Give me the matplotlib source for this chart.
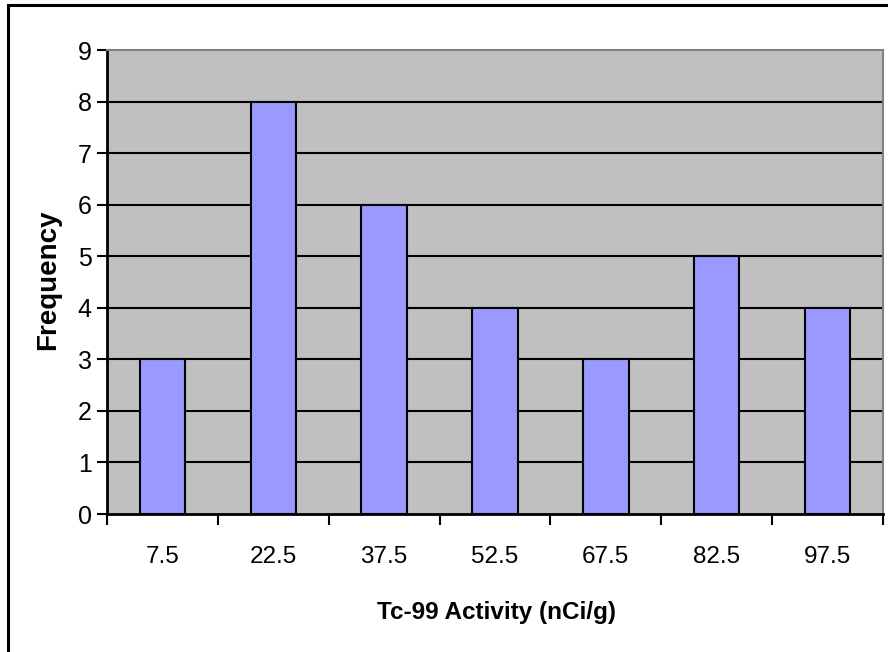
import matplotlib
matplotlib.use("Agg")
import matplotlib.pyplot as plt
from matplotlib.patches import Rectangle
import numpy as np

# Histogram bins (midpoints) and counts
bin_labels = ["7.5", "22.5", "37.5", "52.5", "67.5", "82.5", "97.5"]
frequency = [3, 8, 6, 4, 3, 5, 4]
y_ticks = list(range(0, 10))

plt.rcParams['font.family'] = ['Liberation Sans', 'DejaVu Sans']

W, H = 888, 652
fig = plt.figure(figsize=(W / 100, H / 100), dpi=100)
fig.patch.set_facecolor('white')

# Outer chart frame
fig.patches.append(Rectangle((8 / W, -0.05), 1.2, 1 - 5 / H + 0.05,
                             transform=fig.transFigure, fill=False,
                             edgecolor='black', linewidth=2.2, zorder=0))

left, right, top, bottom = 107, 883, 50, 514
ax = fig.add_axes([left / W, 1 - bottom / H, (right - left) / W, (bottom - top) / H])
ax.set_facecolor('#C0C0C0')

x = np.arange(len(bin_labels))
ax.bar(x, frequency, width=0.41, color='#9999FF', edgecolor='black',
       linewidth=1.5, zorder=3)

ax.set_xlim(-0.5, len(bin_labels) - 0.5)
ax.set_ylim(0, 9)

# Horizontal gridlines
for v in y_ticks[1:-1]:
    ax.axhline(v, color='black', linewidth=1.5, zorder=1)

ax.set_yticks(y_ticks)
ax.set_yticklabels([str(v) for v in y_ticks], fontsize=18)
ax.tick_params(axis='y', direction='out', length=7, width=1.5, pad=4)

ax.set_xticks(x)
ax.set_xticklabels(bin_labels, fontsize=17.5)
ax.set_xticks(np.arange(-0.5, len(bin_labels)), minor=True)
ax.tick_params(axis='x', which='major', length=0, pad=23)
ax.tick_params(axis='x', which='minor', direction='out', length=8, width=1.5)

for side in ['left', 'bottom']:
    ax.spines[side].set_color('black')
    ax.spines[side].set_linewidth(2)
for side in ['top', 'right']:
    ax.spines[side].set_color('#808080')
    ax.spines[side].set_linewidth(1.5)

ax.set_xlabel("Tc-99 Activity (nCi/g)", fontsize=17.5, fontweight='bold', va='center')
ax.xaxis.set_label_coords(0.5025, (bottom - 612) / (bottom - top))
ax.set_ylabel("Frequency", fontsize=20, fontweight='bold', va='center')
ax.yaxis.set_label_coords((48 - left) / (right - left), 0.5 - (280 - (top + bottom) / 2) / (bottom - top))

fig.savefig("out.png", dpi=100)
